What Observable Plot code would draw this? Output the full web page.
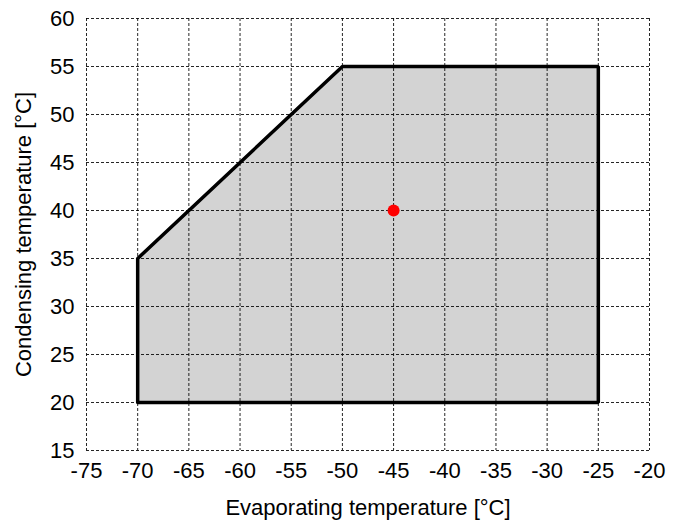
<!DOCTYPE html>
<html>
<head>
<meta charset="utf-8">
<script src="https://cdn.jsdelivr.net/npm/d3@7"></script>
<script src="https://cdn.jsdelivr.net/npm/@observablehq/plot@0.6"></script>
<style>
  body { margin: 0; background: #fff; }
  #chart svg text { font-family: 'Liberation Sans', Arial, sans-serif; font-size: 22px; fill: #000; }
</style>
</head>
<body>
<div id="chart"></div>
<script>
// Envelope boundary (evaporating, condensing)
const envelopeX = [-70, -70, -50, -25, -25, -70];
const envelopeY = [20, 35, 55, 55, 20, 20];
// Upper boundary for fill
const upperX = [-70, -50, -25];
const upperY = [35, 55, 55];
const lowerY = 20;
// Operating point
const pointX = [-45];
const pointY = [40];
// Ticks
const xTicks = [-75, -70, -65, -60, -55, -50, -45, -40, -35, -30, -25, -20];
const yTicks = [15, 20, 25, 30, 35, 40, 45, 50, 55, 60];

const outline = envelopeX.map((x, i) => ({x, y: envelopeY[i]}));
const upper = upperX.map((x, i) => ({x, y1: lowerY, y2: upperY[i]}));
const pts = pointX.map((x, i) => ({x, y: pointY[i]}));

const chart = Plot.plot({
  width: 680,
  height: 523,
  marginLeft: 86,
  marginRight: 31,
  marginTop: 18,
  marginBottom: 73,
  style: {fontFamily: "'Liberation Sans', Arial, sans-serif", fontSize: "22px", color: "#000", background: "#fff"},
  x: {domain: [-75, -20], ticks: xTicks},
  y: {domain: [15, 60], ticks: yTicks},
  marks: [
    Plot.areaY(upper, {x: "x", y1: "y1", y2: "y2", fill: "#d3d3d3"}),
    Plot.gridX(xTicks, {stroke: "#000", strokeOpacity: 0.85, strokeWidth: 1, strokeDasharray: "3,2"}),
    Plot.gridY(yTicks, {stroke: "#000", strokeOpacity: 0.85, strokeWidth: 1, strokeDasharray: "3,2"}),
    Plot.line(outline, {x: "x", y: "y", stroke: "#000", strokeWidth: 3.5, strokeLinejoin: "miter"}),
    Plot.dot(pts, {x: "x", y: "y", r: 6, fill: "#ff0000", stroke: "none"}),
    Plot.axisX(xTicks, {tickSize: 0, tickPadding: 12, tickFormat: d => String(d), label: "Evaporating temperature [°C]", labelAnchor: "center", labelArrow: "none", labelOffset: 64}),
    Plot.axisY(yTicks, {tickSize: 0, tickPadding: 12, tickFormat: d => String(d), label: "Condensing temperature [°C]", labelAnchor: "center", labelArrow: "none", labelOffset: 71})
  ]
});
document.getElementById("chart").appendChild(chart);
</script>
</body>
</html>
